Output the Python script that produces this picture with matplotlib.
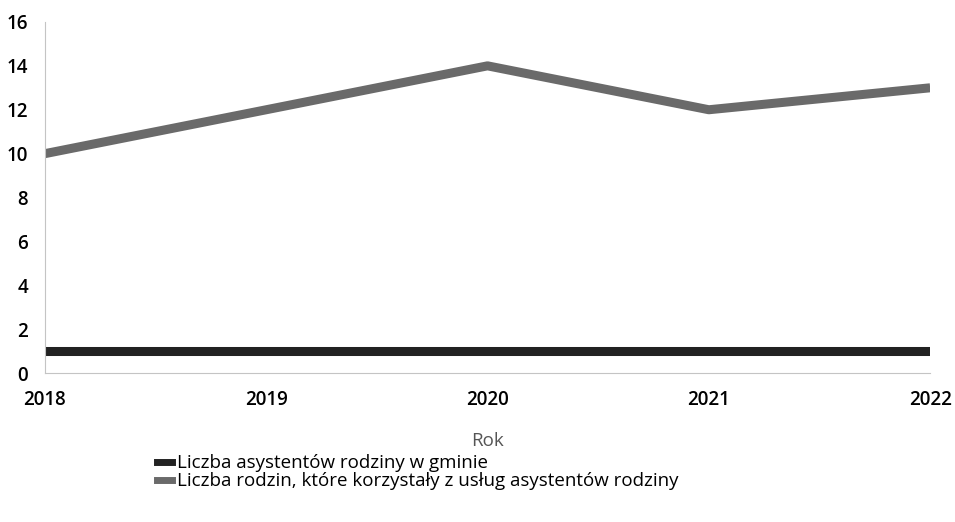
import matplotlib
matplotlib.use("Agg")
import matplotlib.pyplot as plt
from matplotlib.lines import Line2D

# Data
years = [2018, 2019, 2020, 2021, 2022]
asystenci = [1, 1, 1, 1, 1]
rodziny = [10, 12, 14, 12, 13]
labels = ["Liczba asystentów rodziny w gminie",
          "Liczba rodzin, które korzystały z usług asystentów rodziny"]
colors = ["#222222", "#6a6a6a"]

plt.rcParams['font.family'] = ['Open Sans', 'DejaVu Sans']

fig = plt.figure(figsize=(9.55, 5.22), dpi=100)
ax = fig.add_axes([0.047, 0.285, 0.927, 0.673])

ax.plot(years, asystenci, color=colors[0], linewidth=6.5, solid_capstyle="butt")
ax.plot(years, rodziny, color=colors[1], linewidth=6.5, solid_capstyle="butt")

ax.set_xlim(2018, 2022)
ax.set_ylim(0, 16)
ax.set_xticks(years)
ax.set_yticks(range(0, 17, 2))
ax.tick_params(axis="both", length=0, labelsize=13.5)
for lbl in ax.get_xticklabels() + ax.get_yticklabels():
    lbl.set_fontweight("semibold")
ax.tick_params(axis="y", pad=12)
ax.tick_params(axis="x", pad=12)

for side in ["top", "right"]:
    ax.spines[side].set_visible(False)
ax.spines["left"].set_color("#c4c4c4")
ax.spines["left"].set_linewidth(0.8)
ax.spines["bottom"].set_color("#c4c4c4")
ax.spines["bottom"].set_linewidth(0.8)

ax.set_xlabel("Rok", fontsize=13.5, color="#555555", labelpad=16)

# legend below the plot, small square-ish markers
handles = [Line2D([0], [0], color=c, linewidth=5) for c in colors]
fig.legend(handles, labels, loc="upper left", bbox_to_anchor=(0.155, 0.148),
           frameon=False, fontsize=13.5, handlelength=0.8, handletextpad=0.25,
           labelspacing=0.0, borderpad=0)

fig.savefig("out.png", dpi=100)
